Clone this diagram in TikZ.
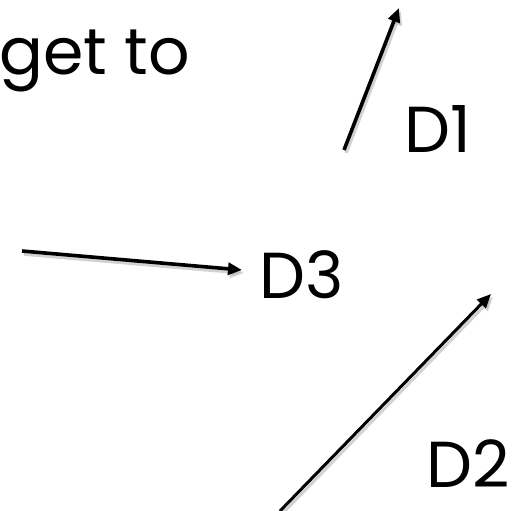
\documentclass[tikz,border=0pt]{standalone}
\usepackage{fontspec}
\setmainfont{Poppins}
\usetikzlibrary{arrows.meta}
\begin{document}
\begin{tikzpicture}[x=1pt,y=-1pt,
  label/.style={font=\fontsize{65}{68}\selectfont, inner sep=0pt, anchor=base west},
  shadowline/.style={line width=#1, black!35, opacity=0.5, -{Triangle[length=14pt,width=12pt]}},
  arrowline/.style={line width=#1, -{Triangle[length=14pt,width=12pt]}}]
  \useasboundingbox (0,0) rectangle (520,511);
  % labels
  \node[label] (getto) at (-1,75) {get to};
  \node[label] (d1) at (404,152) {D1};
  \node[label] (d3) at (259,298) {D3};
  \node[label] (d2) at (426,487) {D2};
  % arrow end points
  \coordinate (a1s) at (344,150);
  \coordinate (a1e) at (399,8);
  \coordinate (a3s) at (22,251);
  \coordinate (a3e) at (242,270);
  \coordinate (a2s) at (280,511);
  \coordinate (a2e) at (491,294);
  % soft shadows
  \draw[shadowline=3.6pt] ([shift={(2,3)}]a1s) -- ([shift={(2,3)}]a1e);
  \draw[shadowline=3.6pt] ([shift={(2,3)}]a3s) -- ([shift={(2,3)}]a3e);
  \draw[shadowline=3pt] ([shift={(2,3)}]a2s) -- ([shift={(2,3)}]a2e);
  % arrows
  \draw[arrowline=3.6pt] (a1s) -- (a1e);
  \draw[arrowline=3.6pt] (a3s) -- (a3e);
  \draw[arrowline=3pt] (a2s) -- (a2e);
\end{tikzpicture}
\end{document}
